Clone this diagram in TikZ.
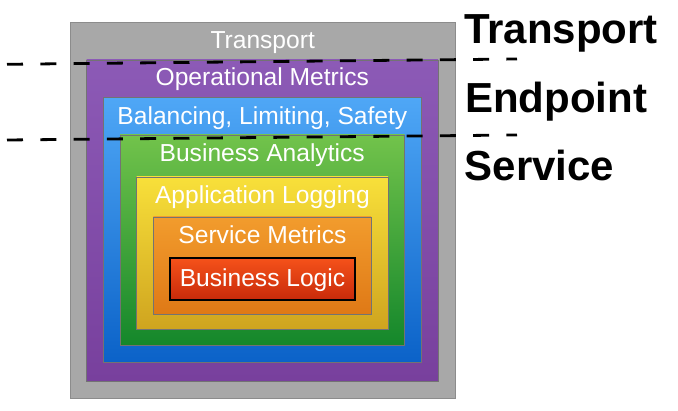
\documentclass[tikz,border=0pt]{standalone}
\usepackage{fontspec}
\setmainfont{Liberation Sans}
\definecolor{grayfill}{HTML}{A8A8A8}
\definecolor{purpT}{HTML}{8C5AB6}
\definecolor{purpB}{HTML}{78409D}
\definecolor{blueT}{HTML}{4FA7F6}
\definecolor{blueB}{HTML}{0B62C8}
\definecolor{greenT}{HTML}{72C34B}
\definecolor{greenB}{HTML}{14872B}
\definecolor{yelT}{HTML}{F8E03A}
\definecolor{yelB}{HTML}{CFA41F}
\definecolor{oraT}{HTML}{F29C2D}
\definecolor{oraB}{HTML}{DF7916}
\definecolor{redT}{HTML}{F5521A}
\definecolor{redB}{HTML}{C82A0A}
\begin{document}
\begin{tikzpicture}[x=1pt,y=-1pt,
  layerbox/.style={draw=black!55,line width=0.7pt},
  lbl/.style={text=white,anchor=base,inner sep=0pt,font=\fontsize{24.6}{28}\selectfont},
  side/.style={text=black,anchor=base west,inner sep=0pt,font=\fontsize{42}{48}\selectfont\bfseries},
  divider/.style={draw=black,line width=2.8pt,dash pattern=on 16pt off 17.3pt}]
\useasboundingbox (0,0) rectangle (678,411);
% nested layers
\path[layerbox,fill=grayfill,draw=black!45] (70,22) rectangle (455.5,398);
\path[layerbox,top color=purpT,bottom color=purpB] (86.7,60) rectangle (438,381);
\path[layerbox,top color=blueT,bottom color=blueB] (103.3,97.5) rectangle (421.5,362);
\path[layerbox,top color=greenT,bottom color=greenB] (120,135) rectangle (404.5,345);
\path[layerbox,top color=yelT,bottom color=yelB] (136.7,177) rectangle (388,329.5);
\path[layerbox,top color=oraT,bottom color=oraB] (153.3,217) rectangle (371,314);
\path[draw=black,line width=1.4pt,top color=redT,bottom color=redB] (170,258) rectangle (355,300);
% labels
\node[lbl] (tr) at (262.7,49) {Transport};
\node[lbl] (om) at (262.3,86) {Operational Metrics};
\node[lbl] (bls) at (262.4,125) {Balancing, Limiting, Safety};
\node[lbl] (ba) at (262.2,161.5) {Business Analytics};
\node[lbl] (al) at (262.4,204) {Application Logging};
\node[lbl] (sm) at (262.5,244) {Service Metrics};
\node[lbl] (bl) at (262.5,287) {Business Logic};
% side labels
\node[side] (st) at (464,43.3) {Transport};
\node[side] (se) at (465,113) {Endpoint};
\node[side] (ss) at (464.5,180.5) {Service};
% dividers
\coordinate (d1a) at (7,64.3);
\coordinate (d1b) at (517,59);
\coordinate (d2a) at (7,140);
\coordinate (d2b) at (517,135);
\draw[divider] (d1a) -- (d1b);
\draw[divider] (d2a) -- (d2b);
\end{tikzpicture}
\end{document}
